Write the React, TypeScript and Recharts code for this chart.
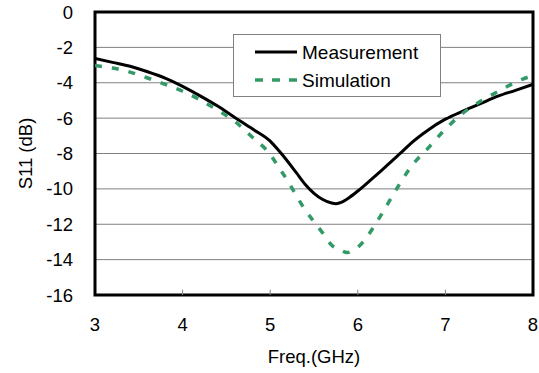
import React from "react";
import {
  LineChart,
  Line,
  XAxis,
  YAxis,
  CartesianGrid,
  Legend,
  ReferenceArea,
  ReferenceLine,
} from "recharts";

const measFreq = [3.0, 3.2, 3.4, 3.6, 3.8, 4.0, 4.2, 4.4, 4.6, 4.8, 5.0, 5.1, 5.2, 5.3, 5.4, 5.5, 5.6, 5.7, 5.75, 5.8, 5.9, 6.0, 6.1, 6.2, 6.3, 6.4, 6.5, 6.6, 6.8, 7.0, 7.2, 7.4, 7.6, 7.8, 8.0];
const measS11 = [-2.62, -2.85, -3.07, -3.38, -3.74, -4.2, -4.74, -5.32, -5.98, -6.62, -7.3, -7.85, -8.45, -9.1, -9.75, -10.25, -10.6, -10.8, -10.84, -10.78, -10.5, -10.12, -9.7, -9.27, -8.83, -8.37, -7.92, -7.45, -6.68, -6.06, -5.6, -5.18, -4.76, -4.43, -4.09];

const simFreq = [3.0, 3.2, 3.4, 3.6, 3.8, 4.0, 4.2, 4.4, 4.6, 4.8, 5.0, 5.1, 5.2, 5.3, 5.4, 5.5, 5.6, 5.7, 5.8, 5.88, 5.95, 6.0, 6.1, 6.2, 6.3, 6.4, 6.5, 6.6, 6.8, 7.0, 7.2, 7.4, 7.6, 7.8, 8.0];
const simS11 = [-3.03, -3.17, -3.4, -3.73, -4.09, -4.48, -4.97, -5.55, -6.2, -7.1, -8.05, -8.8, -9.55, -10.4, -11.2, -11.85, -12.5, -13.17, -13.45, -13.6, -13.45, -13.3, -12.75, -12.0, -11.2, -10.35, -9.55, -8.8, -7.71, -6.62, -5.72, -5.05, -4.5, -3.97, -3.58];

const xTicks = [3, 4, 5, 6, 7, 8];
const yTicks = [0, -2, -4, -6, -8, -10, -12, -14, -16];
const innerTicks = [4, 5, 6, 7];

const measData = measFreq.map((f, i) => ({ f, v: measS11[i] }));
const simData = simFreq.map((f, i) => ({ f, v: simS11[i] }));

const GREEN = "#339966";
const FONT = "'Liberation Sans', Arial, sans-serif";
const FS = 18.5;

const renderLegend = () => (
  <div
    style={{
      width: 208,
      height: 63,
      boxSizing: "border-box",
      border: "1px solid #808080",
      background: "#fff",
      position: "relative",
      fontFamily: FONT,
      color: "#000",
    }}
  >
    <svg width={208} height={63} style={{ position: "absolute", left: -1, top: -1 }}>
      <line x1={22} y1={18} x2={64} y2={18} stroke="#000" strokeWidth={3} />
      <line x1={22} y1={46} x2={64} y2={46} stroke={GREEN} strokeWidth={3.5} strokeDasharray="8 9" />
      <text x={69} y={25} fontSize={19} fontFamily={FONT} fill="#000">Measurement</text>
      <text x={69} y={53} fontSize={19} fontFamily={FONT} fill="#000">Simulation</text>
    </svg>
  </div>
);

export default function App() {
  return (
    <div style={{ position: "absolute", left: 0, top: 0, width: 539, height: 373, background: "#fff", fontFamily: FONT }}>
      <LineChart width={539} height={373} margin={{ top: 12, right: 6, bottom: 0, left: 0 }}>
        <CartesianGrid vertical={false} stroke="#808080" strokeWidth={1} />
        <XAxis
          type="number"
          dataKey="f"
          domain={[3, 8]}
          ticks={xTicks}
          allowDataOverflow
          height={78}
          axisLine={false}
          tickLine={false}
          tickSize={0}
          tickMargin={23}
          tick={{ fontSize: FS, fill: "#000", fontFamily: FONT }}
          label={{ value: "Freq.(GHz)", position: "insideBottom", offset: 10, fontSize: FS, fill: "#000", fontFamily: FONT }}
        />
        <YAxis
          type="number"
          domain={[-16, 0]}
          ticks={yTicks}
          allowDataOverflow
          width={95}
          axisLine={false}
          tickLine={false}
          tickSize={0}
          tickMargin={22}
          tick={{ fontSize: FS, fill: "#000", fontFamily: FONT }}
          label={{ value: "S11 (dB)", angle: -90, position: "insideLeft", offset: 25, fontSize: FS, fill: "#000", fontFamily: FONT, style: { textAnchor: "middle" } }}
        />
        {innerTicks.map((t) => (
          <ReferenceLine key={t} segment={[{ x: t, y: -16 }, { x: t, y: -15.7 }]} stroke="#808080" strokeWidth={1} />
        ))}
        <Line
          data={measData}
          dataKey="v"
          type="monotone"
          stroke="#000"
          strokeWidth={3}
          dot={false}
          isAnimationActive={false}
          name="Measurement"
        />
        <Line
          data={simData}
          dataKey="v"
          type="monotone"
          stroke={GREEN}
          strokeWidth={3.5}
          strokeDasharray="7 10"
          dot={false}
          isAnimationActive={false}
          name="Simulation"
        />
        <ReferenceArea x1={3} x2={8} y1={-16} y2={0} fill="none" stroke="#000" strokeWidth={3} ifOverflow="visible" />
        <Legend
          layout="horizontal"
          verticalAlign="middle"
          align="center"
          content={renderLegend}
          wrapperStyle={{ position: "absolute", left: 233, top: 34, width: 208, height: 63 }}
        />
      </LineChart>
    </div>
  );
}
